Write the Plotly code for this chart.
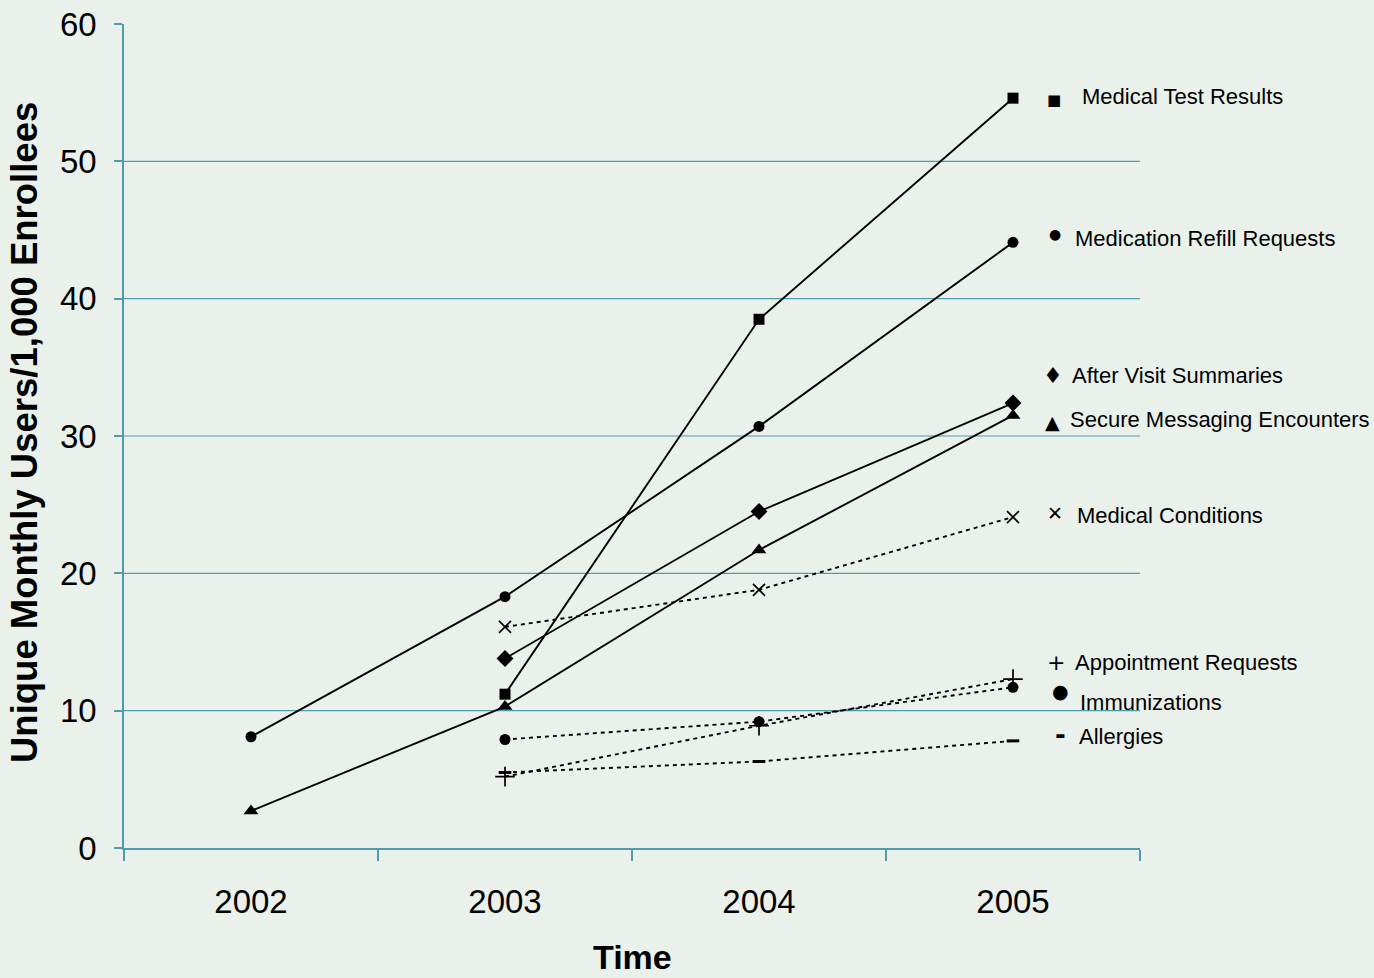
import plotly.graph_objects as go

years = ["2002", "2003", "2004", "2005"]

medical_test_results = [None, 11.2, 38.5, 54.6]
medication_refill = [8.1, 18.3, 30.7, 44.1]
after_visit = [None, 13.8, 24.5, 32.4]
secure_messaging = [2.7, 10.3, 21.7, 31.5]
medical_conditions = [None, 16.1, 18.8, 24.1]
appointment_requests = [None, 5.2, 8.9, 12.3]
immunizations = [None, 7.9, 9.2, 11.7]
allergies = [None, 5.5, 6.3, 7.8]

series_names = ["Medical Test Results", "Medication Refill Requests", "After Visit Summaries",
                "Secure Messaging Encounters", "Medical Conditions", "Appointment Requests",
                "Immunizations", "Allergies"]
y_ticks = [0, 10, 20, 30, 40, 50, 60]
grid_vals = [10, 20, 30, 40, 50]

BG = "#EAF1EB"
TEAL = "#4F9CAB"
FONT = "Liberation Sans, Arial, sans-serif"

fig = go.Figure()

def add(vals, name, symbol, size, dash="solid", mline=0):
    fig.add_trace(go.Scatter(
        x=years, y=vals, name=name, mode="lines+markers",
        line=dict(color="black", width=1.9, dash=dash),
        marker=dict(symbol=symbol, size=size, color="black",
                    line=dict(color="black", width=mline)),
        connectgaps=False, cliponaxis=False))

DASH = "4px,4px"
add(medical_test_results, series_names[0], "square", 11)
add(medication_refill, series_names[1], "circle", 11)
add(after_visit, series_names[2], "diamond", 13)
add(secure_messaging, series_names[3], "triangle-up", 13)
add(medical_conditions, series_names[4], "x-thin-open", 12, DASH, 1.7)
add(appointment_requests, series_names[5], "cross-thin-open", 14, DASH, 1.7)
add(immunizations, series_names[6], "circle", 11, DASH)
add(allergies, series_names[7], "line-ew-open", 9, DASH, 3)

for v in grid_vals:
    fig.add_shape(type="line", xref="paper", x0=0, x1=1, yref="y", y0=v, y1=v,
                  line=dict(color=TEAL, width=1.2), layer="below")

# Right-side labels (pixel-to-paper: (px-124)/1016)
def px(p):
    return (p - 124) / 1016.0

label_syms = [("■", 1054, 54.5, 15), ("●", 1055, 44.7, 14), ("♦", 1053, 34.4, 22),
              ("▲", 1052, 31.0, 19), ("✕", 1055, 24.4, 19), ("+", 1056, 13.5, 22),
              ("●", 1060, 11.4, 19), ("<b>-</b>", 1060, 8.2, 26)]
label_text = [(1080, 54.7), (1073, 44.4), (1070, 34.4), (1068, 31.2),
              (1075, 24.2), (1073, 13.5), (1078, 10.6), (1077, 8.1)]

for (sym, sx, sy, ss), name, (tx, ty) in zip(label_syms, series_names, label_text):
    fig.add_annotation(text=sym, xref="paper", x=px(sx), yref="y", y=sy,
                       xanchor="center", yanchor="middle", showarrow=False,
                       font=dict(size=ss, color="black", family="DejaVu Sans"))
    fig.add_annotation(text=name, xref="paper", x=px(tx), yref="y", y=ty,
                       xanchor="left", yanchor="middle", showarrow=False,
                       font=dict(size=22, color="black", family=FONT))

fig.add_annotation(text="<b>Unique Monthly Users/1,000 Enrollees</b>", textangle=-90,
                   xref="paper", x=px(25), yref="paper", y=(848 - 433) / 824.0,
                   xanchor="center", yanchor="middle", showarrow=False,
                   font=dict(size=36.5, color="black", family=FONT))
fig.add_annotation(text="<b>Time</b>", xref="paper", x=px(632), yref="paper",
                   y=-(957 - 848) / 824.0, xanchor="center", yanchor="middle",
                   showarrow=False, font=dict(size=34, color="black", family=FONT))

fig.update_layout(
    width=1374, height=978,
    margin=dict(l=124, r=234, t=24, b=130, autoexpand=False),
    paper_bgcolor=BG, plot_bgcolor=BG,
    showlegend=False,
    font=dict(family=FONT, color="black"),
    xaxis=dict(type="category", range=[-0.5, 3.5], tickson="boundaries",
               ticks="outside", ticklen=11, tickcolor=TEAL, tickwidth=1.5,
               showline=True, linecolor=TEAL, linewidth=1.5, showgrid=False,
               tickfont=dict(size=33), ticklabelstandoff=24),
    yaxis=dict(range=[0, 60], tickvals=y_ticks, ticks="outside", ticklen=8,
               tickcolor=TEAL, tickwidth=1.5, showline=True, linecolor=TEAL,
               linewidth=1.5, showgrid=False, zeroline=False,
               tickfont=dict(size=33), ticklabelstandoff=11),
)

fig.write_html("out.html", config={"displayModeBar": False},
               post_script="document.body.style.margin='0';document.body.style.overflow='hidden';")
